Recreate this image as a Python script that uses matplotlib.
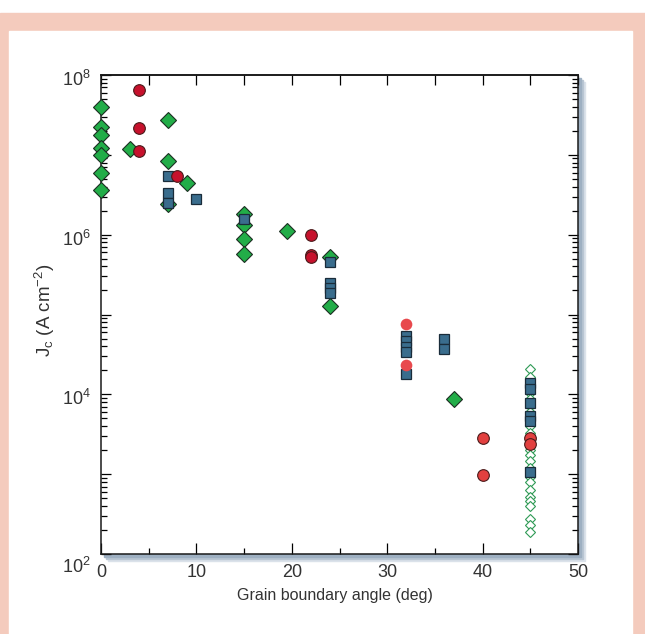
import numpy as np
import matplotlib.pyplot as plt
from matplotlib.patches import Rectangle
from matplotlib.ticker import FixedLocator, LogLocator, NullFormatter
from matplotlib.transforms import blended_transform_factory, offset_copy

plt.rcParams['font.family'] = 'Liberation Sans'
plt.rcParams['mathtext.fontset'] = 'custom'
plt.rcParams['mathtext.rm'] = 'Liberation Sans'
plt.rcParams['mathtext.it'] = 'Liberation Sans:italic'

# green filled diamonds
green_x = [0, 0, 0, 0, 0, 0, 0, 3, 7, 7, 7, 9, 15, 15, 15, 15, 19.5, 24, 24, 37]
green_jc = [4.0e7, 2.24e7, 1.78e7, 1.23e7, 1.0e7, 5.9e6, 3.6e6, 1.2e7,
            2.75e7, 8.3e6, 2.4e6, 4.4e6, 1.82e6, 1.33e6, 8.7e5, 5.75e5,
            1.1e6, 5.2e5, 1.29e5, 8.7e3]

# dark red circles
red_x = [4, 4, 4, 8, 22, 22, 22]
red_jc = [6.5e7, 2.14e7, 1.12e7, 5.4e6, 9.8e5, 5.5e5, 5.2e5]

# light red circles, no outline
pink_x = [32, 32]
pink_jc = [7.6e4, 2.35e4]

# light red circles with outline
pink2_x = [40, 40, 45, 45]
pink2_jc = [2.8e3, 9.8e2, 2.8e3, 2.37e3]

# blue squares
blue_x = [7, 7, 7, 10, 15, 24, 24, 24, 24, 32, 32, 32, 32, 32, 36, 36,
          45, 45, 45, 45, 45, 45]
blue_jc = [5.5e6, 3.3e6, 2.5e6, 2.8e6, 1.55e6, 4.5e5, 2.5e5, 2.15e5, 1.85e5,
           5.4e4, 4.6e4, 3.9e4, 3.4e4, 1.8e4, 5.0e4, 3.7e4,
           1.4e4, 1.17e4, 7.9e3, 5.4e3, 4.7e3, 1.07e3]

# open green diamonds at 45 deg
open_jc = [2.1e4, 1.66e4, 1.32e4, 1.05e4, 8.7e3, 7.1e3, 6.0e3, 5.0e3, 4.0e3,
           3.3e3, 2.0e3, 1.74e3, 1.48e3, 1.2e3, 9.1e2, 7.9e2, 6.3e2, 5.2e2,
           4.6e2, 4.0e2, 2.75e2, 2.3e2, 1.86e2]
open_x = [45] * len(open_jc)

W, H = 645, 634
fig = plt.figure(figsize=(W / 100, H / 100), dpi=100)

# pink frame and white panel
fig.patches.append(Rectangle((0, 0), 1, 1 - 13 / H, transform=fig.transFigure,
                             color='#f4cbbd', zorder=-20))
fig.patches.append(Rectangle((9 / W, 0), (632 - 9) / W, 1 - 31 / H,
                             transform=fig.transFigure, color='white', zorder=-19))

ax_l, ax_r, ax_t, ax_b = 101, 578, 75, 554
pos = [ax_l / W, 1 - ax_b / H, (ax_r - ax_l) / W, (ax_b - ax_t) / H]

# drop shadow behind the plot frame
for off, col in [(7, '#dbe2ea'), (5, '#b9c6d3'), (3, '#9eb0c2')]:
    fig.patches.append(Rectangle((pos[0] + off / W, pos[1] - off / H), pos[2], pos[3],
                                 transform=fig.transFigure, color=col, zorder=-10))

ax = fig.add_axes(pos)
ax.set_facecolor('white')

ax.plot(open_x, open_jc, 'D', ms=5.4, mfc='white', mec='#2f9a55', mew=0.8,
        zorder=2, clip_on=False)
ax.plot(green_x, green_jc, 'D', ms=8.4, mfc='#22ad48', mec='#1c2e22', mew=0.8,
        zorder=3, clip_on=False)
ax.plot(blue_x, blue_jc, 's', ms=6.9, mfc='#3a6d8d', mec='#1a2c3a', mew=0.9,
        zorder=4, clip_on=False)
ax.plot(red_x, red_jc, 'o', ms=8.4, mfc='#c6112c', mec='#4a1a1a', mew=0.8,
        zorder=5, clip_on=False)
ax.plot(pink_x, pink_jc, 'o', ms=8.4, mfc='#e8494d', mec='none', zorder=5)
ax.plot(pink2_x, pink2_jc, 'o', ms=8.4, mfc='#e2403f', mec='#4a1a1a', mew=0.8, zorder=5)

ax.set_xlim(0, 50)
ax.set_yscale('log')
ax.set_ylim(1e2, 1e8)

for s in ax.spines.values():
    s.set_linewidth(1.1)
    s.set_color('#1a1a1a')

ax.yaxis.set_major_locator(FixedLocator([1e2, 1e3, 1e4, 1e5, 1e6, 1e7, 1e8]))
ax.yaxis.set_minor_locator(LogLocator(base=10, subs=np.arange(2, 10), numticks=20))
ax.yaxis.set_major_formatter(NullFormatter())
ax.yaxis.set_minor_formatter(NullFormatter())
ax.tick_params(axis='y', which='both', direction='in', left=True, right=True, width=0.9)
ax.tick_params(axis='y', which='major', length=7)
ax.tick_params(axis='y', which='minor', length=4)

ax.set_xticks([0, 10, 20, 30, 40, 50])
ax.set_xticks([5, 15, 25, 35, 45], minor=True)
ax.tick_params(axis='x', which='both', direction='in', top=False, bottom=True,
               width=0.9, labelsize=13, labelcolor='#333333', pad=7)
ax.tick_params(axis='x', which='major', length=8)
ax.tick_params(axis='x', which='minor', length=4)

top = ax.secondary_xaxis('top')
top.set_xticks([0, 5, 10, 15, 20, 25, 30, 35, 40, 45, 50])
top.tick_params(direction='in', length=7, width=0.9, labeltop=False)
top.spines['top'].set_linewidth(1.1)

# y tick labels, every second decade
trans = blended_transform_factory(ax.transAxes, ax.transData)
ylabels = [(1e8, '8', 0), (1e6, '6', 0), (1e4, '4', 0), (1e2, '2', -8)]
for val, p, extra in ylabels:
    t = offset_copy(trans, fig=fig, x=-10, y=-11 + extra, units='dots')
    ax.text(0, val, r'$\mathregular{10^{%s}}$' % p, transform=t, ha='right',
            va='baseline', fontsize=13, color='#333333')

fig.text(335 / W, 1 - 600 / H, 'Grain boundary angle (deg)', ha='center',
         va='baseline', fontsize=11.5, color='#333333')
fig.text(45 / W, 1 - 310 / H, r'J$_\mathregular{c}$ (A cm$^{\mathregular{-2}}$)',
         ha='center', va='center', rotation=90, fontsize=13.5, color='#333333')

fig.savefig('out.png', dpi=100)
